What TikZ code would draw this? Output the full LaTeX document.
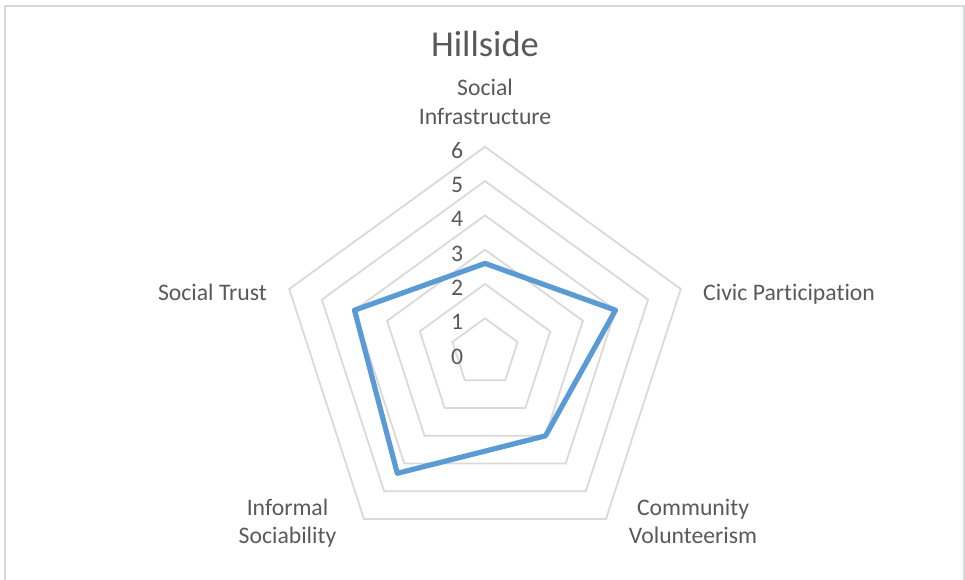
\documentclass[tikz,border=0pt]{standalone}
\usepackage{fontspec}
\setmainfont{Carlito}[RawFeature={-liga;-clig;-dlig;-calt}]
\usetikzlibrary{calc}
\definecolor{gridgray}{HTML}{D9D9D9}
\definecolor{txtgray}{HTML}{595959}
\definecolor{serblue}{HTML}{5B9BD5}
\tikzset{
  lbl/.style={text=txtgray, font=\fontsize{23.7}{28.5}\selectfont, inner sep=0pt, align=center},
  ttl/.style={text=txtgray, font=\fontsize{36.5}{40}\selectfont, inner sep=0pt},
  tick/.style={text=txtgray, font=\fontsize{23.7}{28.5}\selectfont, inner sep=0pt, anchor=base},
  gridline/.style={draw=gridgray, line width=1.8pt, line join=miter},
  series/.style={draw=serblue, line width=5.2pt, line join=round, line cap=round},
  frame/.style={draw=gridgray, line width=2pt}
}
\begin{document}
\begin{tikzpicture}[x=1pt,y=1pt]
\useasboundingbox (0,0) rectangle (965,580);
% frame
\draw[frame] (5,-2) -- (5,574) -- (964,574) -- (964,-2);
% centre of radar
\coordinate (c) at (485,227.4);
\def\u{34.3}
% grid pentagons
\foreach \k in {1,...,6}{
  \draw[gridline] ($(c)+(90:{\k*\u pt})$) -- ($(c)+(18:{\k*\u pt})$) -- ($(c)+(-54:{\k*\u pt})$) -- ($(c)+(-126:{\k*\u pt})$) -- ($(c)+(162:{\k*\u pt})$) -- cycle;
}
% tick labels
\foreach \k in {0,...,6}{
  \node[tick] (t\k) at ($(c)+(-28,{\k*\u-11.6})$) {\k};
}
% data points
\coordinate (p1) at ($(c)+(90:{2.6*\u pt})$);
\coordinate (p2) at ($(c)+(18:{4*\u pt})$);
\coordinate (p3) at ($(c)+(-54:{3*\u pt})$);
\coordinate (p4) at ($(c)+(-126:{4.35*\u pt})$);
\coordinate (p5) at ($(c)+(162:{4*\u pt})$);
\draw[series] (p1) -- (p2) -- (p3) -- (p4) -- (p5) -- cycle;
% title and category labels
\node[ttl, anchor=base] (title) at (485,523) {Hillside};
\node[lbl, anchor=base] (si1) at (485,484) {Social};
\node[lbl, anchor=base] (si2) at (485,455) {Infrastructure};
\node[lbl, anchor=base west] (cp) at (703,279) {Civic Participation};
\node[lbl, anchor=base east] (st) at (267,279) {Social Trust};
\node[lbl, anchor=base] (cv1) at (693,64) {Community};
\node[lbl, anchor=base] (cv2) at (693,36) {Volunteerism};
\node[lbl, anchor=base] (is1) at (287.5,64) {Informal};
\node[lbl, anchor=base] (is2) at (287.5,36) {Sociability};
\end{tikzpicture}
\end{document}
